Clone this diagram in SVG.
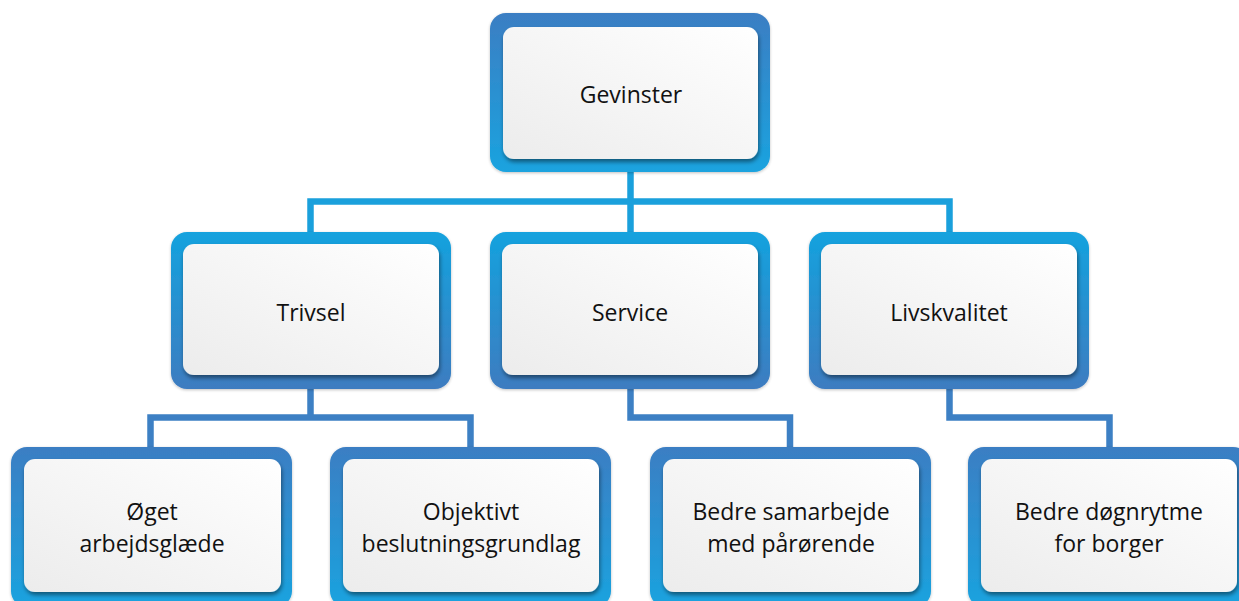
<svg xmlns="http://www.w3.org/2000/svg" width="1239" height="601" viewBox="0 0 1239 601">
<defs>
<linearGradient id="frameA" x1="0" y1="0" x2="0" y2="1">
<stop offset="0" stop-color="#3b7ec3"/>
<stop offset="1" stop-color="#1aa3df"/>
</linearGradient>
<linearGradient id="frameB" x1="0" y1="0" x2="0" y2="1">
<stop offset="0" stop-color="#14a2de"/>
<stop offset="1" stop-color="#3d7cc0"/>
</linearGradient>
<linearGradient id="inner" x1="1" y1="0" x2="0" y2="1">
<stop offset="0" stop-color="#ffffff"/>
<stop offset="1" stop-color="#ececec"/>
</linearGradient>
<filter id="sh" x="-10%" y="-10%" width="120%" height="125%">
<feGaussianBlur in="SourceAlpha" stdDeviation="2"/>
<feOffset dx="1" dy="3" result="b"/>
<feComponentTransfer><feFuncA type="linear" slope="0.45"/></feComponentTransfer>
<feMerge><feMergeNode/><feMergeNode in="SourceGraphic"/></feMerge>
</filter>
<filter id="fsh" x="-10%" y="-10%" width="120%" height="125%">
<feGaussianBlur in="SourceAlpha" stdDeviation="1.5"/>
<feOffset dx="0" dy="1" result="b"/>
<feComponentTransfer><feFuncA type="linear" slope="0.25"/></feComponentTransfer>
<feMerge><feMergeNode/><feMergeNode in="SourceGraphic"/></feMerge>
</filter>
</defs>
<style>
.fa{fill:url(#frameA);filter:url(#fsh)}
.fb{fill:url(#frameB);filter:url(#fsh)}
.in{fill:url(#inner);filter:url(#sh)}
.t{font-family:"Open Sans","Liberation Sans",sans-serif;font-size:23px;fill:#111;text-anchor:middle}
.c1{fill:none;stroke:#1aa0dc;stroke-width:6.5}
.c2{fill:none;stroke:#3d80c4;stroke-width:6.5}
</style>
<rect width="1239" height="601" fill="#ffffff"/>
<g id="connectors">
<path class="c1" d="M630.5 172 V201.5 M310.5 232 V201.5 H949.5 V232 M630.5 201.5 V232"/>
<path class="c2" d="M310.5 389 V417.5 M150.5 447 V417.5 H470.5 V447"/>
<path class="c2" d="M630.5 389 V417.5 H790 V447"/>
<path class="c2" d="M949.5 389 V417.5 H1109.5 V447"/>
</g>
<g id="gevinster">
<rect class="fa" x="490" y="13" width="280" height="159" rx="16"/>
<rect class="in" x="503" y="27" width="255" height="132" rx="11"/>
<text class="t" x="631" y="103">Gevinster</text>
</g>
<g id="trivsel">
<rect class="fb" x="171" y="232" width="280" height="157" rx="16"/>
<rect class="in" x="183" y="244" width="256" height="131" rx="11"/>
<text class="t" x="311" y="321">Trivsel</text>
</g>
<g id="service">
<rect class="fb" x="490" y="232" width="280" height="157" rx="16"/>
<rect class="in" x="502" y="244" width="256" height="131" rx="11"/>
<text class="t" x="630" y="321">Service</text>
</g>
<g id="livskvalitet">
<rect class="fb" x="809" y="232" width="280" height="157" rx="16"/>
<rect class="in" x="821" y="244" width="256" height="131" rx="11"/>
<text class="t" x="949" y="321">Livskvalitet</text>
</g>
<g id="oget">
<rect class="fa" x="11" y="447" width="281" height="160" rx="16"/>
<rect class="in" x="24" y="459" width="257" height="133" rx="11"/>
<text class="t" x="152" y="520">Øget</text>
<text class="t" x="152" y="552">arbejdsglæde</text>
</g>
<g id="objektivt">
<rect class="fa" x="330" y="447" width="281" height="160" rx="16"/>
<rect class="in" x="343" y="459" width="256" height="133" rx="11"/>
<text class="t" x="471" y="520">Objektivt</text>
<text class="t" x="471" y="552">beslutningsgrundlag</text>
</g>
<g id="samarbejde">
<rect class="fa" x="650" y="447" width="281" height="160" rx="16"/>
<rect class="in" x="663" y="459" width="256" height="133" rx="11"/>
<text class="t" x="791" y="520">Bedre samarbejde</text>
<text class="t" x="791" y="552">med pårørende</text>
</g>
<g id="dognrytme">
<rect class="fa" x="968" y="447" width="281" height="160" rx="16"/>
<rect class="in" x="981" y="459" width="256" height="133" rx="11"/>
<text class="t" x="1109" y="520">Bedre døgnrytme</text>
<text class="t" x="1109" y="552">for borger</text>
</g>
</svg>
